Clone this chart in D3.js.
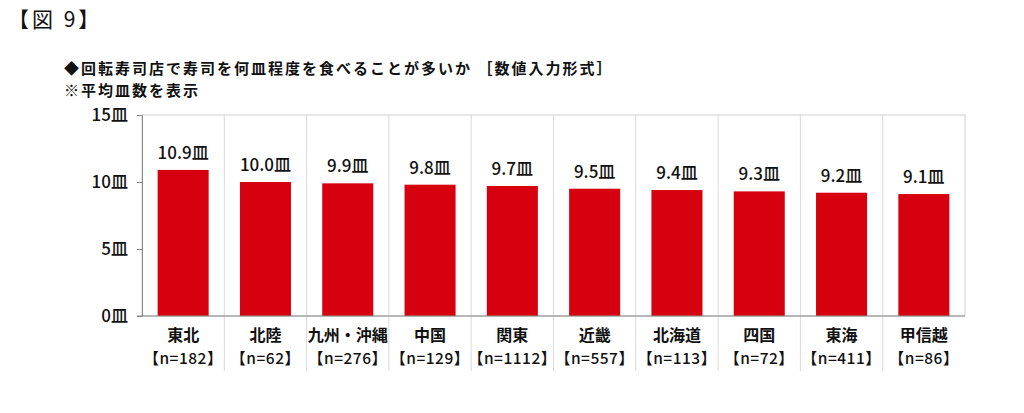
<!DOCTYPE html>
<html>
<head>
<meta charset="utf-8">
<script src="https://cdn.jsdelivr.net/npm/d3@7/dist/d3.min.js"></script>
<style>
  body { margin: 0; background: #fff; }
  svg text { font-family: "Noto Sans CJK JP", "Noto Sans", sans-serif; fill: #111; }
</style>
</head>
<body>
<svg id="chart"></svg>
<script>
const regions = ["東北", "北陸", "九州・沖縄", "中国", "関東", "近畿", "北海道", "四国", "東海", "甲信越"];
const samples = [182, 62, 276, 129, 1112, 557, 113, 72, 411, 86];
const plates = [10.9, 10.0, 9.9, 9.8, 9.7, 9.5, 9.4, 9.3, 9.2, 9.1];
const yTicks = [0, 5, 10, 15];

const W = 1024, H = 413;
const margin = { top: 115, right: 59, bottom: 97, left: 142 };
const width = W - margin.left - margin.right;
const height = H - margin.top - margin.bottom;

const svg = d3.select("#chart").attr("width", W).attr("height", H);

svg.append("text")
  .attr("x", 8).attr("y", 27)
  .style("font-size", "21px").style("letter-spacing", "3px")
  .text("【図 9】");

svg.append("text")
  .attr("x", 64).attr("y", 73.5)
  .style("font-size", "15px").style("font-weight", "bold").style("letter-spacing", "2px")
  .text("◆回転寿司店で寿司を何皿程度を食べることが多いか ［数値入力形式］");

svg.append("text")
  .attr("x", 64).attr("y", 95.5)
  .style("font-size", "15px").style("font-weight", "bold").style("letter-spacing", "2px")
  .text("※平均皿数を表示");

const g = svg.append("g").attr("transform", `translate(${margin.left},${margin.top})`);

const x = d3.scaleBand().domain(regions).range([0, width]).paddingInner(0.38).paddingOuter(0.19);
const y = d3.scaleLinear().domain([0, 15]).range([height, 0]);

// separators between categories
const step = x.step();
g.selectAll(".sep")
  .data(d3.range(1, regions.length))
  .enter().append("line")
  .attr("x1", i => i * step).attr("x2", i => i * step)
  .attr("y1", 0).attr("y2", height + 55)
  .attr("stroke", "#d9d9d9").attr("stroke-width", 1);

// plot border
g.append("rect")
  .attr("x", 0).attr("y", 0).attr("width", width).attr("height", height)
  .attr("fill", "none").attr("stroke", "#d0d0d0");

g.selectAll(".bar")
  .data(plates)
  .enter().append("rect")
  .attr("x", (d, i) => x(regions[i]))
  .attr("y", d => y(d))
  .attr("width", x.bandwidth())
  .attr("height", d => height - y(d))
  .attr("fill", "#d7000f");

g.selectAll(".val")
  .data(plates)
  .enter().append("text")
  .attr("x", (d, i) => x(regions[i]) + x.bandwidth() / 2)
  .attr("y", d => y(d) - 11)
  .attr("text-anchor", "middle")
  .style("font-size", "17px").style("font-weight", "500")
  .text(d => d.toFixed(1) + "皿");

// y axis
const yAxis = g.append("g")
  .call(d3.axisLeft(y).tickValues(yTicks).tickSize(5).tickFormat(d => d + "皿"));
yAxis.select(".domain").attr("stroke", "#888");
yAxis.selectAll(".tick line").attr("stroke", "#888");
yAxis.selectAll(".tick text").style("font-size", "17px").style("font-weight", "500")
  .attr("fill", "#111").attr("x", -14);

g.append("line")
  .attr("x1", -5).attr("x2", width).attr("y1", height).attr("y2", height)
  .attr("stroke", "#888");

// category labels
g.selectAll(".cat")
  .data(regions)
  .enter().append("text")
  .attr("x", d => x(d) + x.bandwidth() / 2)
  .attr("y", height + 25)
  .attr("text-anchor", "middle")
  .style("font-size", "16px").style("font-weight", "bold")
  .text(d => d);

g.selectAll(".n")
  .data(samples)
  .enter().append("text")
  .attr("x", (d, i) => x(regions[i]) + x.bandwidth() / 2)
  .attr("y", height + 48)
  .attr("text-anchor", "middle")
  .style("font-size", "15.5px").style("font-weight", "500").style("letter-spacing", "0.5px")
  .text(d => "【n=" + d + "】");
</script>
</body>
</html>
